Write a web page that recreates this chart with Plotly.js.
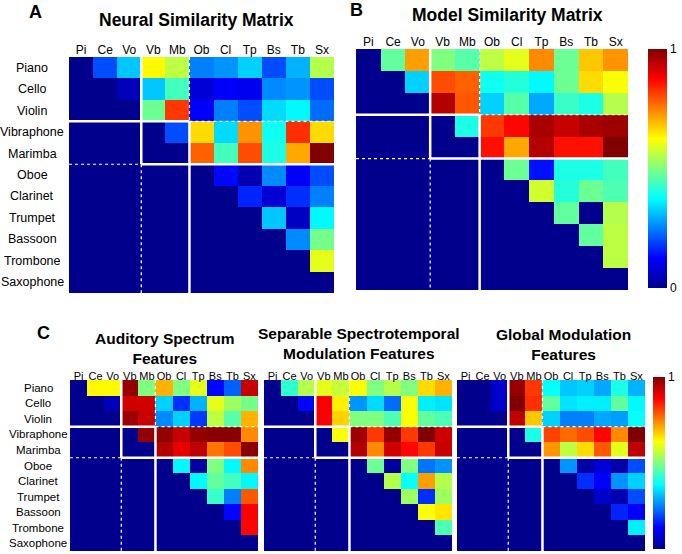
<!DOCTYPE html>
<html>
<head>
<meta charset="utf-8">
<script src="https://cdn.plot.ly/plotly-3.0.1.min.js"></script>
<style>
  body { margin: 0; background: #fff; }
  #plot { width: 682px; height: 554px; }
</style>
</head>
<body>
<div id="plot"></div>
<script>
var abbrev = ['Pi', 'Ce', 'Vo', 'Vb', 'Mb', 'Ob', 'Cl', 'Tp', 'Bs', 'Tb', 'Sx'];
var instruments = ['Piano', 'Cello', 'Violin', 'Vibraphone', 'Marimba', 'Oboe', 'Clarinet', 'Trumpet', 'Bassoon', 'Trombone', 'Saxophone'];

// upper triangle similarity values (rows = instruments, cols = abbrev)
var neural = [
  [0, .20, .32, .63, .56, .25, .27, .33, .20, .30, .55],
  [0, 0, .05, .32, .44, .08, .12, .11, .26, .27, .20],
  [0, 0, 0, .48, .82, .12, .25, .20, .34, .37, .23],
  [0, 0, 0, 0, .20, .66, .34, .73, .39, .83, .66],
  [0, 0, 0, 0, 0, .78, .44, .80, .40, .71, 1.0],
  [0, 0, 0, 0, 0, 0, .13, .04, .26, .12, .20],
  [0, 0, 0, 0, 0, 0, 0, .16, .08, .17, .25],
  [0, 0, 0, 0, 0, 0, 0, 0, .32, .06, .37],
  [0, 0, 0, 0, 0, 0, 0, 0, 0, .26, .49],
  [0, 0, 0, 0, 0, 0, 0, 0, 0, 0, .60],
  [0, 0, 0, 0, 0, 0, 0, 0, 0, 0, 0]
];

var model = [
  [0, .47, .72, .50, .46, .56, .60, .74, .48, .68, .73],
  [0, 0, .33, .80, .78, .39, .41, .37, .48, .66, .62],
  [0, 0, 0, .95, .79, .33, .46, .29, .43, .40, .55],
  [0, 0, 0, 0, .40, .82, .87, .96, .93, .96, .97],
  [0, 0, 0, 0, 0, .86, .71, .95, .86, .86, 1.0],
  [0, 0, 0, 0, 0, 0, .48, .14, .40, .40, .44],
  [0, 0, 0, 0, 0, 0, 0, .58, .41, .48, .45],
  [0, 0, 0, 0, 0, 0, 0, 0, .47, 0, .55],
  [0, 0, 0, 0, 0, 0, 0, 0, 0, .47, .56],
  [0, 0, 0, 0, 0, 0, 0, 0, 0, 0, .56],
  [0, 0, 0, 0, 0, 0, 0, 0, 0, 0, 0]
];

var auditory = [
  [0, .63, .63, .98, .50, .70, .50, .60, .13, .22, .93],
  [0, 0, .05, .92, .92, .33, .17, .30, .60, .53, .49],
  [0, 0, 0, .97, .93, .26, .33, .18, .56, .46, .70],
  [0, 0, 0, 0, .98, .98, .93, .98, .99, .99, .74],
  [0, 0, 0, 0, 0, .95, .90, .94, .76, .80, .99],
  [0, 0, 0, 0, 0, 0, .37, .02, .50, .37, .74],
  [0, 0, 0, 0, 0, 0, 0, .37, .47, .44, .37],
  [0, 0, 0, 0, 0, 0, 0, 0, .43, .25, .79],
  [0, 0, 0, 0, 0, 0, 0, 0, 0, .13, .88],
  [0, 0, 0, 0, 0, 0, 0, 0, 0, 0, .87],
  [0, 0, 0, 0, 0, 0, 0, 0, 0, 0, 0]
];

var separable = [
  [0, .42, .55, .60, .57, .62, .50, .55, .50, .66, .70],
  [0, 0, .13, .88, .64, .27, .34, .23, .62, .36, .35],
  [0, 0, 0, .88, .67, .50, .50, .45, .62, .47, .45],
  [0, 0, 0, 0, .62, .97, .82, .98, .82, 1.0, .92],
  [0, 0, 0, 0, 0, .95, .74, .92, .87, .82, .93],
  [0, 0, 0, 0, 0, 0, .48, .02, .50, .24, .27],
  [0, 0, 0, 0, 0, 0, 0, .55, .38, .72, .55],
  [0, 0, 0, 0, 0, 0, 0, 0, .53, .17, .53],
  [0, 0, 0, 0, 0, 0, 0, 0, 0, .62, .65],
  [0, 0, 0, 0, 0, 0, 0, 0, 0, 0, .45],
  [0, 0, 0, 0, 0, 0, 0, 0, 0, 0, 0]
];

var globalMod = [
  [0, 0, .07, .98, .82, .38, .32, .33, .29, .40, .30],
  [0, 0, .07, 1.0, .83, .47, .35, .36, .36, .47, .37],
  [0, 0, 0, .94, .68, .33, .25, .25, .29, .28, .38],
  [0, 0, 0, 0, .40, .81, .77, .80, .87, .74, 1.0],
  [0, 0, 0, 0, 0, .73, .56, .66, .79, .60, .94],
  [0, 0, 0, 0, 0, 0, .27, .03, .08, .03, .20],
  [0, 0, 0, 0, 0, 0, 0, .17, .12, .27, .33],
  [0, 0, 0, 0, 0, 0, 0, 0, .07, .04, .20],
  [0, 0, 0, 0, 0, 0, 0, 0, 0, .16, .12],
  [0, 0, 0, 0, 0, 0, 0, 0, 0, 0, .36],
  [0, 0, 0, 0, 0, 0, 0, 0, 0, 0, 0]
];

var W = 682, H = 554;
function px(x) { return x / W; }
function py(y) { return 1 - y / H; }

var jet = [
  [0, 'rgb(0,0,140)'], [0.125, 'rgb(0,0,255)'], [0.375, 'rgb(0,255,255)'],
  [0.625, 'rgb(255,255,0)'], [0.875, 'rgb(255,0,0)'], [1, 'rgb(128,0,0)']
];

var idx = [0, 1, 2, 3, 4, 5, 6, 7, 8, 9, 10];

// panels: matrix, pixel box, tick font size, colorbar
var panels = [
  {z: neural, box: [69, 57, 334, 293], fs: 12, rs: 12.5, off: 0, rowX: 32, cb: null},
  {z: model, box: [356, 49, 628, 290], fs: 12, rs: 12.5, off: 0, rowX: null, cb: {x: 648, top: 49, bot: 288, th: 19}},
  {z: auditory, box: [70, 380, 258, 551], fs: 11, rs: 11.5, off: -3, rowX: 38, cb: null},
  {z: separable, box: [264, 380, 452, 551], fs: 11, rs: 11.5, off: -3, rowX: null, cb: null},
  {z: globalMod, box: [457, 380, 645, 551], fs: 11, rs: 11.5, off: -3, rowX: null, cb: {x: 653, top: 377, bot: 549, th: 12}}
];

var data = [];
var layout = {
  width: W, height: H,
  margin: {l: 0, r: 0, t: 0, b: 0},
  paper_bgcolor: '#fff', plot_bgcolor: '#fff',
  font: {family: 'Liberation Sans, Arial, sans-serif', color: '#000'},
  showlegend: false,
  shapes: [], annotations: []
};

panels.forEach(function (p, k) {
  var n = k === 0 ? '' : String(k + 1);
  var tr = {
    type: 'heatmap', z: p.z, x: idx, y: idx,
    xaxis: 'x' + n, yaxis: 'y' + n,
    colorscale: jet, zmin: 0, zmax: 1,
    showscale: !!p.cb, hoverinfo: 'none'
  };
  if (p.cb) {
    tr.colorbar = {
      x: px(p.cb.x), xanchor: 'left', xref: 'paper', xpad: 0, ypad: 0,
      y: py((p.cb.top + p.cb.bot) / 2), yanchor: 'middle', len: (p.cb.bot - p.cb.top) / H, lenmode: 'fraction',
      thickness: p.cb.th, thicknessmode: 'pixels', outlinewidth: 0,
      tickvals: [0, 1], ticktext: ['0', '1'], ticks: '', ticklen: 0,
      tickfont: {size: 12, family: 'Liberation Sans, Arial, sans-serif'}
    };
  }
  data.push(tr);
  layout['xaxis' + n] = {
    domain: [px(p.box[0]), px(p.box[2])], anchor: 'y' + n,
    range: [-0.5, 10.5], side: 'top', tickvals: idx, ticktext: abbrev,
    tickangle: 0, ticks: '', ticklabelstandoff: p.off,
    showgrid: false, zeroline: false, showline: false,
    tickfont: {size: p.fs}, fixedrange: true
  };
  layout['yaxis' + n] = {
    domain: [py(p.box[3]), py(p.box[1])], anchor: 'x' + n,
    range: [10.5, -0.5], showticklabels: false, ticks: '',
    showgrid: false, zeroline: false, showline: false, fixedrange: true
  };
  var xr = 'x' + n, yr = 'y' + n;
  var solid = [[2.5, -0.5, 2.5, 4.5], [4.5, 2.5, 4.5, 10.5], [-0.5, 2.5, 4.5, 2.5], [2.5, 4.5, 10.5, 4.5]];
  var dashed = [[2.5, 4.5, 2.5, 10.5], [4.5, -0.5, 4.5, 2.5], [4.5, 2.5, 10.5, 2.5], [-0.5, 4.5, 2.5, 4.5]];
  solid.forEach(function (s) {
    layout.shapes.push({type: 'line', xref: xr, yref: yr, x0: s[0], y0: s[1], x1: s[2], y1: s[3],
      line: {color: '#fff', width: 2.5}});
  });
  dashed.forEach(function (s) {
    layout.shapes.push({type: 'line', xref: xr, yref: yr, x0: s[0], y0: s[1], x1: s[2], y1: s[3],
      line: {color: '#fff', width: 1.2, dash: 'dot'}});
  });
  if (p.rowX !== null) {
    instruments.forEach(function (name, i) {
      layout.annotations.push({text: name, xref: 'paper', yref: yr, x: px(p.rowX), y: i,
        xanchor: 'center', yanchor: 'middle', showarrow: false, font: {size: p.rs}});
    });
  }
});

// panel letters and titles
var titles = [
  {t: '<b>A</b>', x: 35, y: 12, s: 18},
  {t: '<b>Neural Similarity Matrix</b>', x: 196, y: 20, s: 17.5},
  {t: '<b>B</b>', x: 356, y: 10, s: 18},
  {t: '<b>Model Similarity Matrix</b>', x: 507, y: 15, s: 17.5},
  {t: '<b>C</b>', x: 43, y: 333, s: 18},
  {t: '<b>Auditory Spectrum<br>Features</b>', x: 165, y: 348, s: 15.5},
  {t: '<b>Separable Spectrotemporal<br>Modulation Features</b>', x: 359, y: 343, s: 15.5},
  {t: '<b>Global Modulation<br>Features</b>', x: 563, y: 344, s: 15.5}
];
titles.forEach(function (t) {
  layout.annotations.push({text: t.t, xref: 'paper', yref: 'paper', x: px(t.x), y: py(t.y),
    xanchor: 'center', yanchor: 'middle', showarrow: false, font: {size: t.s}});
});

Plotly.newPlot('plot', data, layout, {staticPlot: true});
</script>
</body>
</html>
